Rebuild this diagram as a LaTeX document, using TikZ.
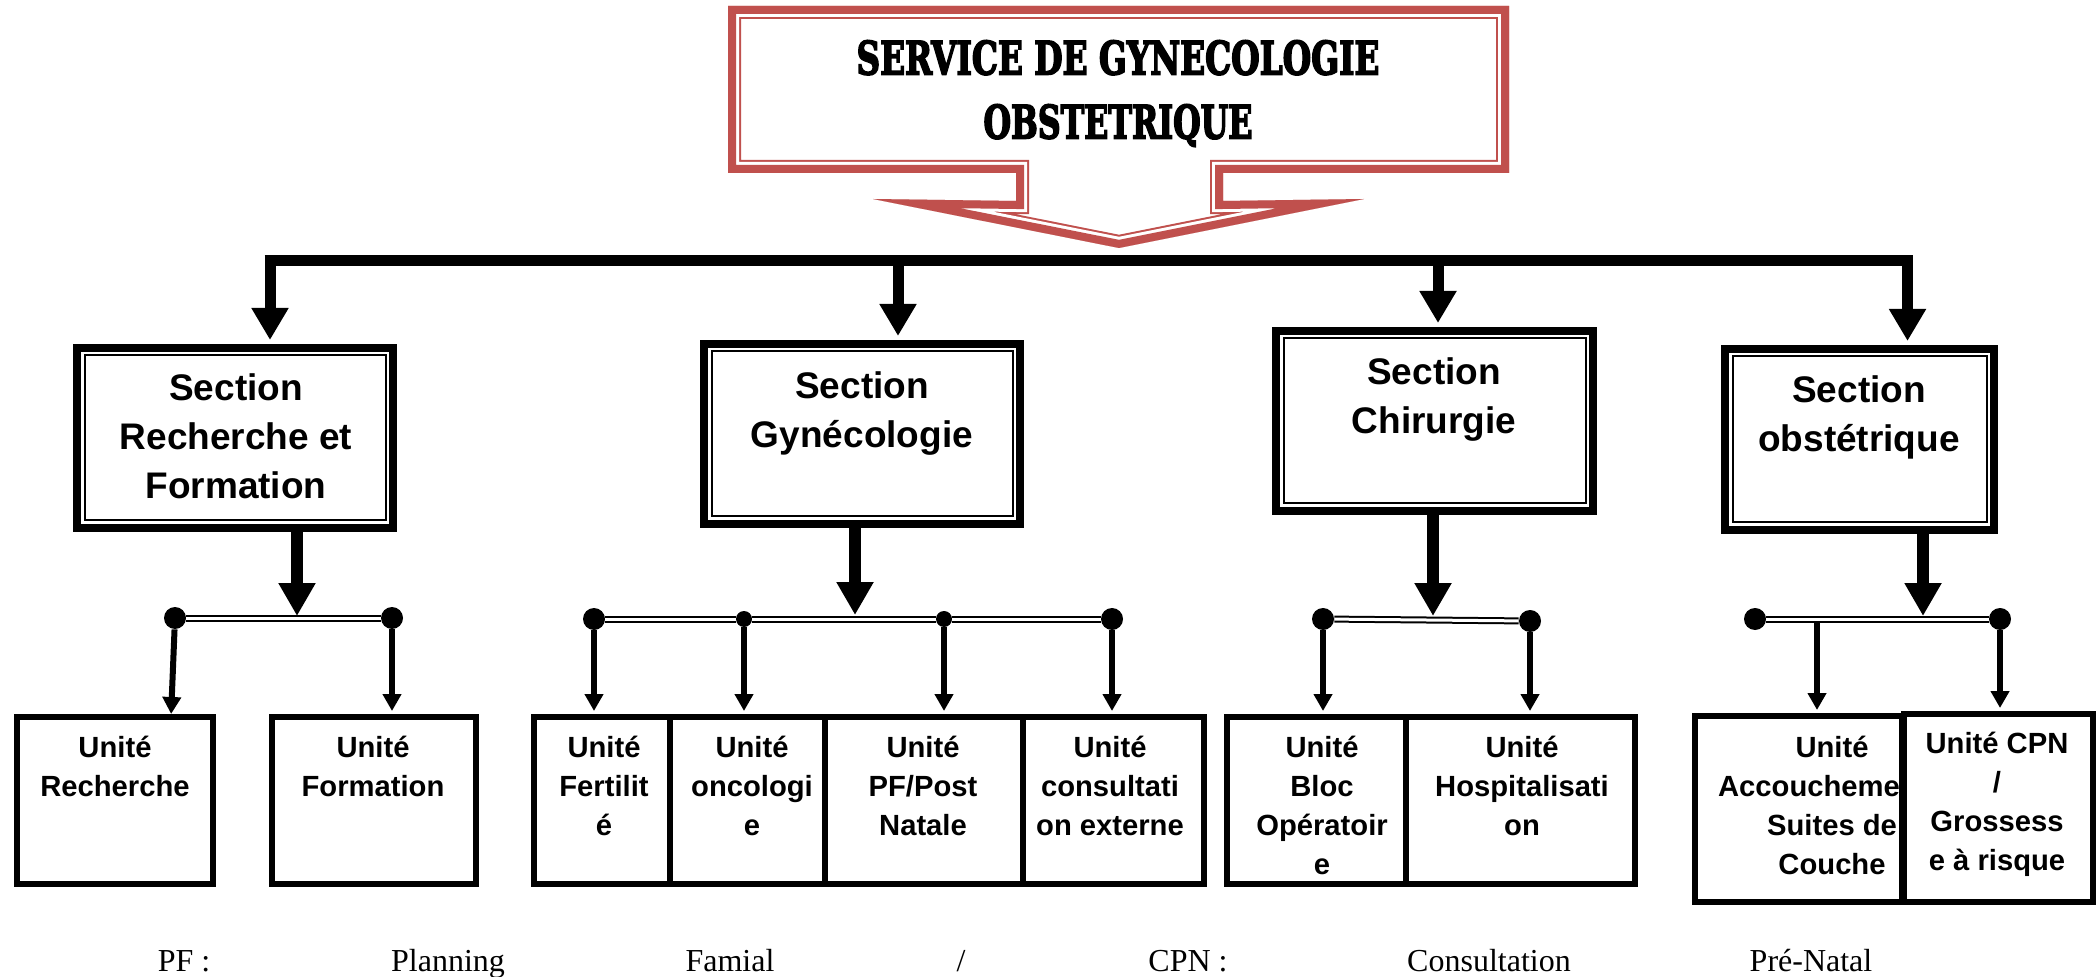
\documentclass[tikz,border=0pt]{standalone}
\usepackage{fontspec}
\usepackage{graphicx}
\setmainfont{Liberation Serif}
\newfontfamily\arialfont{Liberation Sans}
\newfontfamily\titlefont{DejaVu Serif}[BoldFeatures={FakeBold=4}]
\usetikzlibrary{arrows.meta,calc}
\definecolor{calloutred}{HTML}{C0504D}
\begin{document}
\begin{tikzpicture}[x=0.5pt,y=-0.5pt,
  secbox/.style={draw, line width=4pt, fill=white, inner sep=0pt,
    path picture={\draw[line width=1pt]
      ([xshift=3.75pt,yshift=-3.75pt]path picture bounding box.north west) rectangle
      ([xshift=-3.75pt,yshift=3.75pt]path picture bounding box.south east);}},
  unitbox/.style={draw, line width=3pt, fill=white, inner sep=0pt},
  sectext/.style={font=\arialfont\bfseries\fontsize{18.5}{24.5}\selectfont, align=center, inner sep=0pt, anchor=north},
  unittext/.style={font=\arialfont\bfseries\fontsize{14.6}{19.5}\selectfont, align=center, inner sep=0pt, anchor=north},
  titletext/.style={font=\titlefont\bfseries\fontsize{24}{32}\selectfont, align=center, inner sep=0pt, anchor=north},
  captext/.style={font=\fontsize{16}{19}\selectfont, inner sep=0pt, anchor=base},
  busline/.style={line width=5.5pt, line cap=butt},
  toparrow/.style={line width=5.5pt, -{Triangle[width=17.5pt,length=16pt]}, shorten >=2pt},
  secarrow/.style={line width=6pt, -{Triangle[width=17.5pt,length=16.5pt]}},
  smallarrow/.style={line width=3pt, -{Triangle[width=9pt,length=8.5pt]}, shorten >=1.5pt},
  subbus/.style={double, line width=1pt, double distance=1.5pt},
  bigdot/.style={circle, fill=black, inner sep=0pt, minimum size=11pt},
  smalldot/.style={circle, fill=black, inner sep=0pt, minimum size=8pt}
]
\useasboundingbox (0,0) rectangle (2096,977);

% ---------- title callout ----------
\begin{scope}
\clip (728,6) -- (1509,6) -- (1509,173) -- (1223,173) -- (1223,201) -- (1364,199) -- (1119,248) -- (873,199) -- (1016,201) -- (1016,173) -- (728,173) -- cycle;
\foreach \c/\w in {calloutred/13pt, white/11pt, calloutred/8pt}
  \draw[\c, line width=\w, line join=miter] (728,6) -- (1509,6) -- (1509,173) -- (1223,173) -- (1223,201) -- (1364,199) -- (1119,248) -- (873,199) -- (1016,201) -- (1016,173) -- (728,173) -- cycle;
\end{scope}
\node[titletext] (title) at (1118,40) {\resizebox{261.5pt}{17pt}{SERVICE DE GYNECOLOGIE}\\\resizebox{134.5pt}{17pt}{OBSTETRIQUE}};

% ---------- main bus ----------
\coordinate (bL) at (264.5,261);
\coordinate (bR) at (1912.5,261);
\draw[busline] (bL) -- (bR);
\coordinate (t1) at (270,255.5);
\coordinate (t2) at (898,255.5);
\coordinate (t3) at (1438,255.5);
\coordinate (t4) at (1907.5,255.5);

% ---------- sections ----------
\node[secbox, minimum width=158pt, minimum height=90pt] (s1) at (235,438) {};
\node[secbox, minimum width=158pt, minimum height=90pt] (s2) at (862,434) {};
\node[secbox, minimum width=158.5pt, minimum height=90pt] (s3) at (1434.5,421) {};
\node[secbox, minimum width=134.5pt, minimum height=90.5pt] (s4) at (1859.5,439.5) {};
\node[sectext] (s1t) at (236,372) {\rule{0pt}{14pt}Section\\Recherche et\\Formation};
\node[sectext] (s2t) at (862,370) {\rule{0pt}{14pt}Section\\Gynécologie};
\node[sectext] (s3t) at (1434,356) {\rule{0pt}{14pt}Section\\Chirurgie};
\node[sectext] (s4t) at (1859,374) {\rule{0pt}{14pt}Section\\obstétrique};

\draw[toparrow] (t1) -- (t1 |- s1.north);
\draw[toparrow] (t2) -- (t2 |- s2.north);
\draw[toparrow] (t3) -- (t3 |- s3.north);
\draw[toparrow] (t4) -- (t4 |- s4.north);

% ---------- units ----------
\node[unitbox, minimum width=98pt, minimum height=83.5pt] (u1) at (115,800.5) {};
\node[unitbox, minimum width=102pt, minimum height=83.5pt] (u2) at (374,800.5) {};
\node[unitbox, minimum width=68pt, minimum height=83.5pt] (u3) at (602,800.5) {};
\node[unitbox, minimum width=77.5pt, minimum height=83.5pt] (u4) at (747.5,800.5) {};
\node[unitbox, minimum width=99pt, minimum height=83.5pt] (u5) at (924,800.5) {};
\node[unitbox, minimum width=90.5pt, minimum height=83.5pt] (u6) at (1113.5,800.5) {};
\node[unitbox, minimum width=89.5pt, minimum height=83.5pt] (u7) at (1316.5,800.5) {};
\node[unitbox, minimum width=114.5pt, minimum height=83.5pt] (u8) at (1520.5,800.5) {};
\node[unitbox, minimum width=103.5pt, minimum height=93pt] (u9) at (1798.5,809) {};
\node[unittext] (u9t) at (1832,734) {\rule{0pt}{11.5pt}Unité\\Accoucheme\makebox[23pt]{}\\Suites de\\Couche};
\node[unitbox, minimum width=94.5pt, minimum height=94pt] (u10) at (1998.5,808) {};

\node[unittext] (u1t) at (115,734) {\rule{0pt}{11.5pt}Unité\\Recherche};
\node[unittext] (u2t) at (373,734) {\rule{0pt}{11.5pt}Unité\\Formation};
\node[unittext] (u3t) at (604,734) {\rule{0pt}{11.5pt}Unité\\Fertilit\\é};
\node[unittext] (u4t) at (752,734) {\rule{0pt}{11.5pt}Unité\\oncologi\\e};
\node[unittext] (u5t) at (923,734) {\rule{0pt}{11.5pt}Unité\\PF/Post\\Natale};
\node[unittext] (u6t) at (1110,734) {\rule{0pt}{11.5pt}Unité\\consultati\\on externe};
\node[unittext] (u7t) at (1322,734) {\rule{0pt}{11.5pt}Unité\\Bloc\\Opératoir\\e};
\node[unittext] (u8t) at (1522,734) {\rule{0pt}{11.5pt}Unité\\Hospitalisati\\on};
\node[unittext] (u10t) at (1997,730) {\rule{0pt}{11.5pt}Unité CPN\\/\\Grossess\\e à risque};

% ---------- sub-buses ----------
\node[bigdot] (d11) at (175,618) {};
\node[bigdot] (d12) at (392,618) {};
\node[bigdot] (d21) at (594,619) {};
\node[smalldot] (d22) at (744,619) {};
\node[smalldot] (d23) at (944,619) {};
\node[bigdot] (d24) at (1112,619) {};
\node[bigdot] (d31) at (1323,619) {};
\node[bigdot] (d32) at (1530,621) {};
\node[bigdot] (d41) at (1755,619) {};
\node[bigdot] (d42) at (2000,619) {};

\draw[subbus] (d11) -- (d12);
\draw[subbus] (d21) -- (d22);
\draw[subbus] (d22) -- (d23);
\draw[subbus] (d23) -- (d24);
\draw[subbus] (d31) -- (d32);
\draw[subbus] (d41) -- (d42);

% section -> sub-bus arrows
\coordinate (j1) at (297,616);
\coordinate (j2) at (855,615);
\coordinate (j3) at (1433,616);
\coordinate (j4) at (1923,616);
\draw[secarrow] (s1.south -| j1) -- (j1);
\draw[secarrow] (s2.south -| j2) -- (j2);
\draw[secarrow] (s3.south -| j3) -- (j3);
\draw[secarrow] (s4.south -| j4) -- (j4);

% branches
\coordinate (a11) at (171,717);
\draw[smallarrow] (d11) -- (a11);
\draw[smallarrow] (d12) -- (d12 |- u2.north);
\draw[smallarrow] (d21) -- (d21 |- u3.north);
\draw[smallarrow] (d22) -- (d22 |- u4.north);
\draw[smallarrow] (d23) -- (d23 |- u5.north);
\draw[smallarrow] (d24) -- (d24 |- u6.north);
\draw[smallarrow] (d31) -- (d31 |- u7.north);
\draw[smallarrow] (d32) -- (d32 |- u8.north);
\coordinate (c41) at (1817,622);
\draw[smallarrow] (c41) -- (c41 |- u9.north);
\draw[smallarrow] (d42) -- (d42 |- u10.north);

% ---------- caption ----------
\node[captext] (k1) at (184,971) {PF :};
\node[captext] (k2) at (448,971) {Planning};
\node[captext] (k3) at (730,971) {Famial};
\node[captext] (k4) at (961,971) {/};
\node[captext] (k5) at (1188,971) {CPN :};
\node[captext] (k6) at (1489,971) {Consultation};
\node[captext] (k7) at (1811,971) {Pré-Natal};
\end{tikzpicture}
\end{document}
